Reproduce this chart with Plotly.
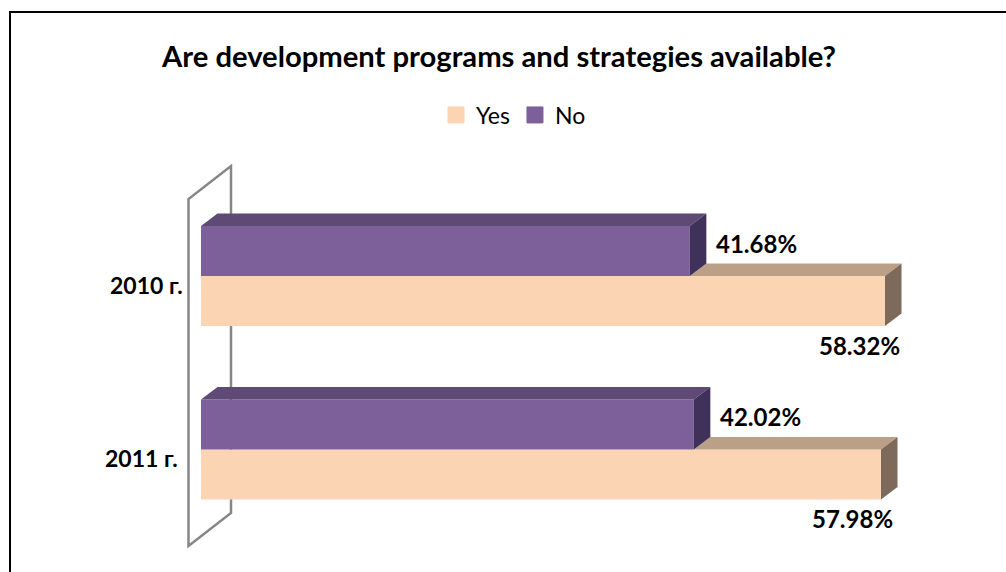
import plotly.graph_objects as go

# ---- data ----
years = ["2011 г.", "2010 г."]
yes_values = [57.98, 58.32]
no_values = [42.02, 41.68]

YES_FRONT, YES_TOP, YES_SIDE = "#FBD4B4", "#BC9F87", "#7E6A5A"
NO_FRONT, NO_TOP, NO_SIDE = "#7D5F9A", "#5F4A75", "#40315A"
FONT = "Lato, Carlito, Calibri, sans-serif"

W, H = 1006, 572
PX_PER_PCT = 684 / 58.32          # horizontal scale
PX_PER_ROW = 173.5                # distance between the two category rows
X0_PX = 201                       # pixel of value 0
ROW0_PX = 449.5                   # pixel of row 0 (2011)

x_range = [-X0_PX / PX_PER_PCT, (W - X0_PX) / PX_PER_PCT]
y_range = [-(H - ROW0_PX) / PX_PER_ROW, ROW0_PX / PX_PER_ROW]

DX = 16.5 / PX_PER_PCT            # 3-D depth
DY = 12.5 / PX_PER_ROW
BAR_H = 50 / PX_PER_ROW


def faces(values, offset, starts):
    """Top and side faces of the extruded bars, derived from the values."""
    top_x, top_y, side_x, side_y = [], [], [], []
    for row, (v, s) in enumerate(zip(values, starts)):
        lo = row + offset
        hi = lo + BAR_H
        top_x += [s, v, v + DX, s + DX, s, None]
        top_y += [hi, hi, hi + DY, hi + DY, hi, None]
        side_x += [v, v + DX, v + DX, v, v, None]
        side_y += [lo, lo + DY, hi + DY, hi, lo, None]
    return top_x, top_y, side_x, side_y


fig = go.Figure()

for name, values, color in (("Yes", yes_values, YES_FRONT), ("No", no_values, NO_FRONT)):
    fig.add_trace(go.Bar(
        name=name, y=list(range(len(years))), x=values, orientation="h",
        marker=dict(color=color, line=dict(width=0)),
        showlegend=False, hovertemplate="%{x:.2f}%<extra>" + name + "</extra>",
    ))

# the Yes top face is hidden behind the No bar, so it starts where that bar ends
for values, offset, starts, top_c, side_c in (
        (yes_values, -BAR_H, no_values, YES_TOP, YES_SIDE),
        (no_values, 0, [0] * len(no_values), NO_TOP, NO_SIDE)):
    tx, ty, sx, sy = faces(values, offset, starts)
    for xs, ys, c in ((tx, ty, top_c), (sx, sy, side_c)):
        fig.add_trace(go.Scatter(
            x=xs, y=ys, mode="lines", fill="toself", fillcolor=c,
            line=dict(width=0, color=c), hoverinfo="skip", showlegend=False,
        ))

# legend entries
for name, color in (("Yes", YES_FRONT), ("No", NO_FRONT)):
    fig.add_trace(go.Scatter(
        x=[None], y=[None], name=name, mode="markers",
        marker=dict(symbol="square", size=16, color=color, line=dict(width=1, color=color)),
    ))

# back wall of the category axis
wall_dx_l = -12.5 / PX_PER_PCT
wall_dx_r = 30 / PX_PER_PCT
wall_top = 1 + (276 - 199) / PX_PER_ROW
wall_bot = -(546 - 449.5) / PX_PER_ROW
wall_rise = 33 / PX_PER_ROW
fig.add_shape(
    type="path", layer="below", xref="x", yref="y",
    path=(f"M {wall_dx_l} {wall_bot} L {wall_dx_l} {wall_top} "
          f"L {wall_dx_r} {wall_top + wall_rise} L {wall_dx_r} {wall_bot + wall_rise} Z"),
    line=dict(color="#868686", width=2.5), fillcolor="rgba(0,0,0,0)",
)

# chart frame (top and left edges)
fig.add_shape(type="path", xref="paper", yref="paper", layer="below",
              path=f"M {10/W} 0 L {10/W} {1-12/H} L 1 {1-12/H}",
              line=dict(color="#000000", width=2))

annotations = []
# category labels
for row, name, xs, ys in zip((0, 1), years, (-21, -16), (-8.5, -9)):
    annotations.append(dict(x=0, y=row, text=f"<b>{name}</b>", xanchor="right", yanchor="middle",
                            xshift=xs, yshift=ys, showarrow=False,
                            font=dict(family=FONT, size=23, color="#000000")))
# value labels
for row, v, xs in zip((0, 1), yes_values, (14, 17)):
    annotations.append(dict(x=v, y=row, text=f"<b>{v:.2f}%</b>", xanchor="right", yanchor="middle",
                            xshift=xs, yshift=(449.5 + 0) - 518 if row == 0 else 276 - 345,
                            showarrow=False, font=dict(family=FONT, size=24, color="#000000")))
for row, v in zip((0, 1), no_values):
    annotations.append(dict(x=v, y=row, text=f"<b>{v:.2f}%</b>", xanchor="left", yanchor="middle",
                            xshift=24, yshift=33, showarrow=False,
                            font=dict(family=FONT, size=24, color="#000000")))

fig.update_layout(
    width=W, height=H, autosize=False,
    margin=dict(l=0, r=0, t=0, b=0),
    paper_bgcolor="#FFFFFF", plot_bgcolor="rgba(0,0,0,0)",
    barmode="group", bargap=1 - 100 / PX_PER_ROW, bargroupgap=0,
    xaxis=dict(range=x_range, visible=False, fixedrange=True),
    yaxis=dict(range=y_range, visible=False, fixedrange=True),
    title=dict(text="<b>Are development programs and strategies available?</b>",
               x=499 / W, xanchor="center", y=1 - 57 / H, yanchor="middle",
               font=dict(family=FONT, size=29.2, color="#000000")),
    legend=dict(orientation="h", x=436 / W, xanchor="left", y=1 - 115 / H, yanchor="middle",
                font=dict(family=FONT, size=23, color="#000000"), bgcolor="rgba(0,0,0,0)",
                itemclick=False, itemdoubleclick=False),
    annotations=annotations,
    showlegend=True,
)

fig.write_html("out.html", post_script="document.body.style.margin='0';",
               config={"displayModeBar": False})
